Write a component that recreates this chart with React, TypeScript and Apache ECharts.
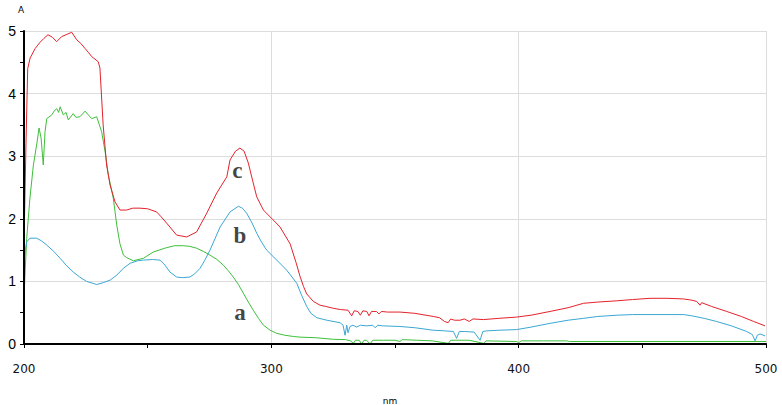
import React, { useEffect, useRef } from "react";
import * as echarts from "echarts";

// Wavelength (nm) / absorbance (A) samples
const cNm = [200, 200.8, 201.5, 202.5, 204.5, 206.5, 208, 209.7, 211.5, 213.2, 215.2, 217, 219.3, 221.3, 223, 224.7, 226, 227.4, 230, 230.7, 232, 233.4, 234.8, 236.8, 238.8, 241.5, 244, 246.9, 250, 253.6, 255.5, 257.7, 261.7, 265.8, 269.8, 273.9, 277.9, 282, 283.3, 285.5, 287.3, 289, 290.7, 292.5, 294.1, 296.8, 300.8, 303.5, 307.6, 310, 311.6, 313, 314.3, 317, 319.7, 322, 325.1, 328, 331, 332.5, 333.5, 335, 336, 337, 338.6, 339.5, 340.5, 342.5, 343.5, 344.5, 347, 352, 358, 365.5, 368, 370, 371.5, 372.5, 374, 376.3, 378, 380, 381.5, 385.8, 392, 399.2, 405, 412.7, 420, 426.2, 432, 439.7, 446, 453.1, 460, 466.6, 470, 472, 473.3, 474, 478, 484.1, 490, 495, 499.6];
const cA = [1.6, 3.2, 4.4, 4.57, 4.72, 4.82, 4.88, 4.94, 4.9, 4.83, 4.91, 4.94, 4.98, 4.86, 4.8, 4.72, 4.66, 4.59, 4.51, 4.41, 3.5, 2.86, 2.54, 2.27, 2.14, 2.14, 2.17, 2.17, 2.16, 2.11, 2.03, 1.93, 1.74, 1.71, 1.79, 2.09, 2.41, 2.67, 2.94, 3.08, 3.13, 3.08, 2.89, 2.6, 2.35, 2.14, 1.98, 1.87, 1.6, 1.3, 1.08, 0.92, 0.8, 0.68, 0.62, 0.6, 0.57, 0.55, 0.54, 0.45, 0.53, 0.52, 0.46, 0.53, 0.52, 0.45, 0.52, 0.52, 0.48, 0.52, 0.51, 0.51, 0.49, 0.44, 0.42, 0.36, 0.34, 0.4, 0.38, 0.38, 0.4, 0.36, 0.4, 0.39, 0.41, 0.43, 0.46, 0.52, 0.58, 0.65, 0.67, 0.69, 0.71, 0.73, 0.73, 0.72, 0.7, 0.68, 0.62, 0.66, 0.6, 0.52, 0.44, 0.36, 0.29];

const bNm = [200, 200.5, 201.1, 202.4, 205.1, 207, 209.2, 212, 214.6, 217, 219.9, 222.5, 225.3, 229.4, 232, 234.8, 237.5, 240.2, 242.9, 246, 248.3, 252, 255, 257, 259, 261.7, 264, 267.1, 269, 271.2, 273, 275.2, 277.3, 279.3, 283.3, 286.7, 288.3, 290, 292, 294.1, 296, 298.1, 302.2, 306.2, 310.3, 312, 314.3, 316, 318.4, 322.4, 327.8, 329, 329.8, 330.5, 331, 331.8, 333, 334.5, 336, 338.6, 341, 342, 343, 345, 352, 358, 365.5, 370, 373.6, 374.9, 376, 378, 382, 384.4, 385.5, 387.1, 392, 399.2, 405, 412.7, 420, 426.2, 432, 439.7, 446, 453.1, 460, 466.6, 470, 475, 480, 486, 492.2, 494.5, 495.6, 496.5, 497.6, 499.6];
const bA = [1.15, 1.5, 1.63, 1.69, 1.69, 1.65, 1.58, 1.48, 1.37, 1.26, 1.15, 1.07, 1.0, 0.95, 0.98, 1.02, 1.1, 1.21, 1.29, 1.33, 1.34, 1.35, 1.34, 1.26, 1.15, 1.07, 1.06, 1.07, 1.12, 1.21, 1.33, 1.5, 1.69, 1.87, 2.11, 2.2, 2.17, 2.09, 1.95, 1.77, 1.63, 1.5, 1.34, 1.18, 0.97, 0.8, 0.6, 0.49, 0.42, 0.38, 0.34, 0.3, 0.14, 0.3, 0.18, 0.28, 0.3, 0.27, 0.3, 0.29, 0.3, 0.26, 0.3, 0.29, 0.28, 0.26, 0.22, 0.21, 0.2, 0.09, 0.2, 0.2, 0.19, 0.06, 0.2, 0.21, 0.22, 0.23, 0.27, 0.33, 0.38, 0.41, 0.44, 0.46, 0.47, 0.47, 0.47, 0.47, 0.45, 0.41, 0.36, 0.29, 0.2, 0.15, 0.05, 0.14, 0.16, 0.13];

const aNm = [200, 200.5, 201.1, 202.4, 203.8, 205.1, 206.1, 206.9, 207.8, 208.5, 209.2, 211.2, 212.2, 213.2, 214, 214.6, 215.9, 217, 217.9, 219.9, 221, 222.6, 224.7, 226, 227.4, 229.4, 231.4, 232.8, 234.1, 236.1, 237.5, 238.8, 240.2, 241.5, 244.2, 248.3, 252.3, 257.7, 261, 264.4, 267, 269.8, 272.5, 275.2, 278, 280.6, 282.6, 284.6, 286.7, 288.7, 290.7, 292.7, 294.8, 296.8, 299.5, 302.2, 305.5, 308.9, 311.6, 318, 325.1, 330, 332, 333.2, 334, 335.5, 336.5, 337.5, 338.5, 339.9, 341, 345.3, 350, 352, 353, 358.8, 365, 371.6, 372.5, 380, 385.8, 386.8, 399.2, 400, 401, 410, 419.4, 420.5, 500];
const aA = [0.73, 1.2, 1.69, 2.33, 2.86, 3.18, 3.45, 3.29, 2.86, 3.39, 3.6, 3.66, 3.72, 3.76, 3.7, 3.79, 3.66, 3.7, 3.58, 3.68, 3.62, 3.63, 3.72, 3.66, 3.6, 3.63, 3.39, 3.07, 2.7, 2.33, 1.9, 1.6, 1.42, 1.38, 1.33, 1.37, 1.47, 1.54, 1.57, 1.57, 1.56, 1.53, 1.48, 1.42, 1.35, 1.26, 1.17, 1.07, 0.95, 0.81, 0.67, 0.54, 0.41, 0.3, 0.22, 0.17, 0.14, 0.12, 0.11, 0.1, 0.075, 0.07, 0.05, 0.01, 0.06, 0.06, 0.0, 0.06, 0.06, 0.0, 0.06, 0.06, 0.06, 0.04, 0.07, 0.06, 0.05, 0.01, 0.06, 0.06, 0.01, 0.05, 0.04, 0.02, 0.05, 0.05, 0.05, 0.04, 0.04];

// Curve labels (letter, nm, A)
const curveLabels = ["c", "b", "a"];
const labelNm = [286.3, 287.3, 287.3];
const labelA = [2.77, 1.74, 0.5];

const xTicks = [200, 300, 400, 500];

const zip = (xs: number[], ys: number[]) => xs.map((x, i) => [x, ys[i]]);

const GRID = { left: 24, right: 16, top: 31, bottom: 61, outerBoundsMode: "none", containLabel: false };

// Base chart: grid lines, curves and curve letters
function baseOption() {
  return {
    animation: false,
    grid: GRID,
    xAxis: {
      type: "value",
      min: xTicks[0],
      max: xTicks[xTicks.length - 1],
      interval: 100,
      axisLine: { show: false },
      axisTick: { show: false },
      axisLabel: { show: false },
      splitLine: { show: true, lineStyle: { color: "#dcdcdc", width: 1 } },
    },
    yAxis: {
      type: "value",
      min: 0,
      max: 5,
      interval: 1,
      axisLine: { show: false },
      axisTick: { show: false },
      axisLabel: { show: false },
      splitLine: { show: true, lineStyle: { color: "#dcdcdc", width: 1 } },
    },
    series: [
      { name: "a", type: "line", data: zip(aNm, aA), showSymbol: false, lineStyle: { color: "#3dbf3a", width: 1 } },
      { name: "b", type: "line", data: zip(bNm, bA), showSymbol: false, lineStyle: { color: "#3ba7d3", width: 1 } },
      { name: "c", type: "line", data: zip(cNm, cA), showSymbol: false, lineStyle: { color: "#e3222c", width: 1 } },
      {
        type: "scatter",
        data: curveLabels.map((t, i) => [labelNm[i], labelA[i], t]),
        symbolSize: 0,
        label: {
          show: true,
          position: "inside",
          formatter: (p: any) => p.data[2],
          fontFamily: "Liberation Serif",
          fontWeight: "bold",
          fontSize: 23,
          color: "#111111",
        },
      },
    ],
  };
}

// Overlay chart: black axis lines, ticks, tick labels and axis names
function axesOption() {
  return {
    animation: false,
    grid: GRID,
    xAxis: {
      type: "value",
      min: xTicks[0],
      max: xTicks[xTicks.length - 1],
      interval: 100,
      offset: 5,
      name: "nm",
      nameLocation: "middle",
      nameGap: 47,
      nameTextStyle: { fontFamily: "DejaVu Sans", fontSize: 9, color: "#000", padding: [0, 10, 0, 0] },
      axisLine: { show: true, lineStyle: { color: "#000000", width: 2 } },
      axisTick: { show: true, length: 4, lineStyle: { color: "#000000", width: 1 } },
      minorTick: { show: true, splitNumber: 2, length: 4, lineStyle: { color: "#000000", width: 1 } },
      axisLabel: { margin: 14, fontFamily: "DejaVu Sans", fontSize: 12, color: "#111" },
      splitLine: { show: false },
    },
    yAxis: {
      type: "value",
      min: 0,
      max: 5,
      interval: 1,
      name: "A",
      nameLocation: "end",
      nameGap: 17,
      nameTextStyle: { fontFamily: "DejaVu Sans", fontSize: 9, color: "#000", padding: [0, 6, 0, 0] },
      axisLine: { show: true, lineStyle: { color: "#000000", width: 2 } },
      axisTick: { show: true, length: 4, lineStyle: { color: "#000000", width: 1 } },
      minorTick: { show: true, splitNumber: 2, length: 4, lineStyle: { color: "#000000", width: 1 } },
      axisLabel: { margin: 8, fontFamily: "Liberation Sans", fontSize: 14, color: "#000" },
      splitLine: { show: false },
    },
    series: [{ type: "line", data: [] }],
  };
}

export default function App() {
  const baseRef = useRef<HTMLDivElement>(null);
  const axesRef = useRef<HTMLDivElement>(null);
  useEffect(() => {
    if (!baseRef.current || !axesRef.current) return;
    const base = echarts.init(baseRef.current, null, { renderer: "svg" });
    base.setOption(baseOption());
    const axes = echarts.init(axesRef.current, null, { renderer: "svg" });
    axes.setOption(axesOption());
    return () => {
      base.dispose();
      axes.dispose();
    };
  }, []);
  const box: React.CSSProperties = { width: 782, height: 405, position: "absolute", left: 0, top: 0 };
  return (
    <div style={{ position: "absolute", left: 0, top: 0, width: 782, height: 405, background: "#fff" }}>
      <div ref={baseRef} style={box} />
      <div ref={axesRef} style={{ ...box, pointerEvents: "none" }} />
    </div>
  );
}
